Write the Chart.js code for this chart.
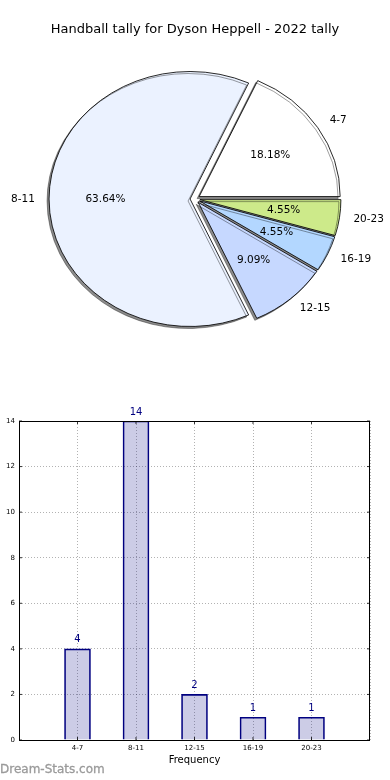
<!DOCTYPE html>
<html>
<head>
<meta charset="utf-8">
<script src="https://cdn.jsdelivr.net/npm/chart.js@4.4.0/dist/chart.umd.min.js"></script>
<style>
  body { margin: 0; background: #fff; width: 390px; height: 780px; overflow: hidden; position: relative; font-family: 'DejaVu Sans', sans-serif; }
  #pie { position: absolute; left: 0; top: 0; }
  #bar { position: absolute; left: 0; top: 400px; }
  #mark { position: absolute; left: 0; top: 762px; font: 12px 'DejaVu Sans', sans-serif; color: #9a9a9a; -webkit-text-stroke: 0.3px #9a9a9a; }
</style>
</head>
<body>
<canvas id="pie" width="390" height="390"></canvas>
<canvas id="bar" width="390" height="380"></canvas>
<div id="mark">Dream-Stats.com</div>
<script>
// données du graphique
const titleText = 'Handball tally for Dyson Heppell - 2022 tally';
const categories = ['4-7', '8-11', '12-15', '16-19', '20-23'];
const counts = [4, 14, 2, 1, 1];
const pieColors = ['#ffffff', '#ebf2ff', '#c6d8ff', '#b3d7ff', '#cdea8a'];
const explode = [0.035, 0.035, 0.035, 0.035, 0.035];
const xLabel = 'Frequency';
const yMax = 14;
const yStep = 2;

const FONT = "'DejaVu Sans', sans-serif";
const SX = 1.106; // la tarte est un peu ovale dans l'original

// Chart.js tourne dans le sens horaire, donc on inverse l'ordre
const order = [4, 3, 2, 1, 0];

// décale les parts "explosées"
const explodePlugin = {
    id: 'explode',
    afterDatasetUpdate(chart, args) {
        const meta = chart.getDatasetMeta(args.index);
        meta.data.forEach((el, j) => {
            const e = explode[order[j]] * el.outerRadius;
            if (!e) return;
            const mid = (el.startAngle + el.endAngle) / 2;
            el.x += Math.cos(mid) * e;
            el.y += Math.sin(mid) * e;
        });
    }
};

// étire horizontalement + ombre + étiquettes
const stretchPlugin = {
    id: 'stretch',
    beforeDatasetsDraw(chart) {
        const ctx = chart.ctx;
        const a = chart.chartArea;
        const cx = (a.left + a.right) / 2;
        ctx.save();
        ctx.translate(cx, 0);
        ctx.scale(SX, 1);
        ctx.translate(-cx, 0);
        ctx.shadowColor = 'rgba(0,0,0,0.45)';
        ctx.shadowOffsetX = -2;
        ctx.shadowOffsetY = 2;
        ctx.shadowBlur = 0;
    },
    afterDatasetsDraw(chart) {
        const ctx = chart.ctx;
        ctx.restore();
        const a = chart.chartArea;
        const cx = (a.left + a.right) / 2;
        const meta = chart.getDatasetMeta(0);
        const total = counts.reduce((s, v) => s + v, 0);
        ctx.save();
        ctx.fillStyle = '#000';
        ctx.font = '10.5px ' + FONT;
        ctx.textBaseline = 'middle';
        meta.data.forEach((el, j) => {
            const i = order[j];
            const mid = (el.startAngle + el.endAngle) / 2;
            const r = el.outerRadius;
            const x0 = cx + (el.x - cx) * SX;
            const y0 = el.y;
            const c = Math.cos(mid), s = Math.sin(mid);
            ctx.textAlign = c > 0 ? 'left' : 'right';
            ctx.fillText(categories[i], x0 + c * r * 1.1 * SX, y0 + s * r * 1.1);
            ctx.textAlign = 'center';
            const pct = (counts[i] / total * 100).toFixed(2) + '%';
            ctx.fillText(pct, x0 + c * r * 0.6 * SX, y0 + s * r * 0.6);
        });
        ctx.restore();
    }
};

new Chart(document.getElementById('pie'), {
    type: 'pie',
    data: {
        labels: order.map(i => categories[i]),
        datasets: [{
            data: order.map(i => counts[i]),
            backgroundColor: order.map(i => pieColors[i]),
            borderColor: '#000',
            borderWidth: 0.8
        }]
    },
    options: {
        responsive: false,
        animation: false,
        rotation: 90,
        radius: 127.5,
        layout: { padding: { left: 0, right: 0, top: 0, bottom: 39.6 } },
        plugins: {
            legend: { display: false },
            tooltip: { enabled: false },
            title: {
                display: true,
                text: titleText,
                color: '#000',
                font: { family: FONT, size: 13, weight: 'normal' },
                padding: { top: 22, bottom: 10 }
            }
        }
    },
    plugins: [explodePlugin, stretchPlugin]
});

// cadre noir + petites graduations internes
const framePlugin = {
    id: 'frame',
    afterDraw(chart) {
        const ctx = chart.ctx;
        const a = chart.chartArea;
        const xs = chart.scales.x, ys = chart.scales.y;
        ctx.save();
        ctx.strokeStyle = '#000';
        ctx.lineWidth = 1;
        ctx.strokeRect(a.left + 0.5, a.top + 0.5, a.right - a.left - 1, a.bottom - a.top);
        ctx.lineWidth = 0.8;
        ctx.beginPath();
        for (let v = 0; v <= yMax; v += yStep) {
            const y = ys.getPixelForValue(v);
            ctx.moveTo(a.left, y); ctx.lineTo(a.left + 3, y);
            ctx.moveTo(a.right, y); ctx.lineTo(a.right - 3, y);
        }
        categories.forEach((c, i) => {
            const x = xs.getPixelForValue(i);
            ctx.moveTo(x, a.bottom); ctx.lineTo(x, a.bottom - 3);
            ctx.moveTo(x, a.top); ctx.lineTo(x, a.top + 3);
        });
        ctx.stroke();
        ctx.restore();
    }
};

// valeurs au-dessus des barres
const valuePlugin = {
    id: 'values',
    afterDatasetsDraw(chart) {
        const ctx = chart.ctx;
        const meta = chart.getDatasetMeta(0);
        ctx.save();
        ctx.fillStyle = '#000080';
        ctx.font = '10px ' + FONT;
        ctx.textAlign = 'center';
        ctx.textBaseline = 'middle';
        meta.data.forEach((el, i) => {
            ctx.fillText(String(counts[i]), el.x, el.y - 9);
        });
        ctx.restore();
    }
};

const gridStyle = { drawTicks: false, color: 'rgba(0,0,0,0.3)', lineWidth: 1, offset: false };

new Chart(document.getElementById('bar'), {
    type: 'bar',
    data: {
        datasets: [{
            data: counts.map((v, i) => ({ x: i, y: v })),
            backgroundColor: 'rgba(0,0,128,0.2)',
            borderColor: '#000080',
            borderWidth: 1,
            barThickness: 26
        }]
    },
    options: {
        responsive: false,
        animation: false,
        layout: { padding: { left: 0, right: 20, top: 21, bottom: 0 } },
        plugins: { legend: { display: false }, tooltip: { enabled: false } },
        scales: {
            x: {
                type: 'linear',
                min: -1,
                max: categories.length,
                offset: false,
                grid: gridStyle,
                border: { display: false, dash: [1, 2] },
                ticks: {
                    stepSize: 1,
                    padding: 4,
                    color: '#000',
                    font: { family: FONT, size: 7 },
                    callback: v => categories[v] !== undefined ? categories[v] : ''
                },
                title: {
                    display: true,
                    text: xLabel,
                    color: '#000',
                    font: { family: FONT, size: 10 },
                    padding: { top: 0, bottom: 14 }
                },
                afterFit(s) { s.height = 40; }
            },
            y: {
                min: 0,
                max: yMax,
                grid: gridStyle,
                border: { display: false, dash: [1, 2] },
                ticks: {
                    stepSize: yStep,
                    padding: 4,
                    color: '#000',
                    font: { family: FONT, size: 7 }
                },
                afterFit(s) { s.width = 19; }
            }
        }
    },
    plugins: [framePlugin, valuePlugin]
});
</script>
</body>
</html>
